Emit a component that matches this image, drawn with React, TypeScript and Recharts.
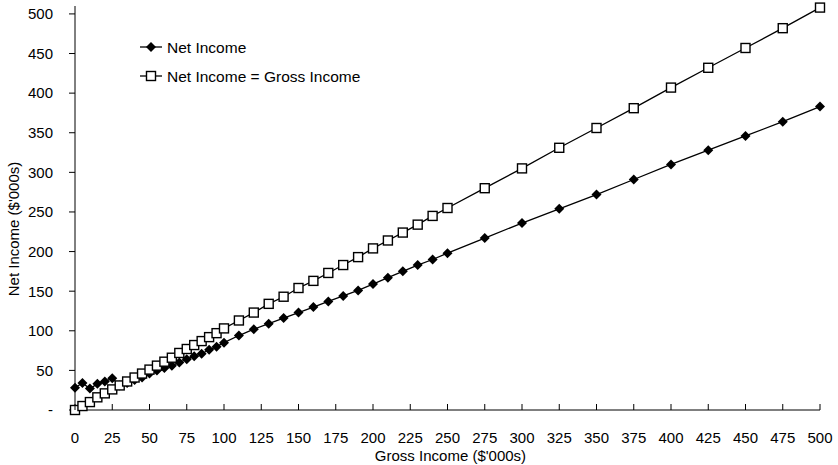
import { Legend, Line, LineChart, XAxis, YAxis } from "recharts"

// Gross income points (step 5 to 100, step 10 to 250, step 25 to 500)
const grossIncome = [
  0, 5, 10, 15, 20, 25, 30, 35, 40, 45, 50, 55, 60, 65, 70, 75, 80, 85, 90, 95, 100,
  110, 120, 130, 140, 150, 160, 170, 180, 190, 200, 210, 220, 230, 240, 250,
  275, 300, 325, 350, 375, 400, 425, 450, 475, 500,
]

const netIncome = [
  28, 34, 27, 33, 36, 40, 31, 34, 38, 41, 46, 50, 53, 56, 60, 64, 68, 71, 76, 80, 85,
  94, 102, 109, 116, 123, 130, 137, 144, 151, 159, 167, 175, 183, 190, 198,
  217, 236, 254, 272, 291, 310, 328, 346, 364, 383,
]

// as plotted in the source (sits a touch above the 45° line)
const equalLine = [
  0, 5, 10, 16, 21, 26, 31, 36, 41, 46, 51, 56, 61, 66, 72, 77, 82, 87, 92, 97, 103,
  113, 123, 134, 143, 154, 163, 173, 183, 193, 204, 214, 224, 234, 245, 255,
  280, 305, 331, 356, 381, 407, 432, 457, 482, 508,
]

const xTicks = [0, 25, 50, 75, 100, 125, 150, 175, 200, 225, 250, 275, 300, 325, 350, 375, 400, 425, 450, 475, 500]
const yTicks = [0, 50, 100, 150, 200, 250, 300, 350, 400, 450, 500]

const seriesNames = ["Net Income", "Net Income = Gross Income"]

const data = grossIncome.map((g, i) => ({ gross: g, net: netIncome[i], equal: equalLine[i] }))

const FONT = '"Liberation Sans", Arial, sans-serif'

const Diamond = ({ cx, cy, r = 5 }: { cx: number; cy: number; r?: number }) => (
  <polygon points={`${cx},${cy - r} ${cx + r},${cy} ${cx},${cy + r} ${cx - r},${cy}`} fill="#000" />
)

const Square = ({ cx, cy, s = 9 }: { cx: number; cy: number; s?: number }) => (
  <rect x={cx - s / 2} y={cy - s / 2} width={s} height={s} fill="#fff" stroke="#000" strokeWidth={1.4} />
)

const XTick = (props: any) => {
  const { x, y, payload } = props
  return (
    <g>
      <line x1={x} y1={y} x2={x} y2={y - 6} stroke="#000" />
      <text x={x} y={y + 33} textAnchor="middle" fontSize={15} fontFamily={FONT} fill="#000">
        {payload.value}
      </text>
    </g>
  )
}

const renderLegend = () => (
  <svg width={280} height={50} style={{ display: "block" }}>
    {seriesNames.map((name, i) => (
      <g key={name}>
        <line x1={4} x2={26} y1={10 + i * 29} y2={10 + i * 29} stroke="#000" strokeWidth={1.3} />
        {i === 0 ? <Diamond cx={15} cy={10} r={5} /> : <Square cx={15} cy={39} s={9} />}
        <text x={31} y={15.5 + i * 29} fontSize={15.5} fontFamily={FONT} fill="#000">
          {name}
        </text>
      </g>
    ))}
  </svg>
)

export default function App() {
  return (
    <div style={{ position: "absolute", left: 0, top: 0, background: "#fff" }}>
      <LineChart width={838} height={465} data={data} margin={{ top: 6, right: 18, bottom: 0, left: 0 }}>
        <XAxis
          dataKey="gross"
          type="number"
          domain={[0, 500]}
          ticks={xTicks}
          interval={0}
          tickLine={false}
          tickSize={0}
          tickMargin={0}
          tick={<XTick />}
          height={55}
          stroke="#000"
          label={{ value: "Gross Income ($'000s)", position: "insideBottom", offset: 4, dx: 3, fontSize: 15, fontFamily: FONT, fill: "#000" }}
        />
        <YAxis
          type="number"
          domain={[0, 510]}
          ticks={yTicks}
          interval={0}
          width={75}
          stroke="#000"
          tickSize={6}
          tickMargin={16}
          tick={{ fontSize: 15, fontFamily: FONT, fill: "#000" }}
          tickFormatter={(v: number) => (v === 0 ? "-" : String(v))}
          label={{ value: "Net Income ($'000s)", angle: -90, position: "insideLeft", offset: 14, dy: 21, fontSize: 15, fontFamily: FONT, fill: "#000", style: { textAnchor: "middle" } }}
        />
        <Legend
          layout="vertical"
          align="center"
          verticalAlign="middle"
          content={renderLegend}
          wrapperStyle={{ left: 136, top: 37, width: 280 }}
        />
        <Line
          dataKey="net"
          name={seriesNames[0]}
          stroke="#000"
          strokeWidth={1.3}
          isAnimationActive={false}
          dot={(p: any) => <Diamond key={`n-${p.index}`} cx={p.cx} cy={p.cy} />}
        />
        <Line
          dataKey="equal"
          name={seriesNames[1]}
          stroke="#000"
          strokeWidth={1.3}
          isAnimationActive={false}
          dot={(p: any) => <Square key={`e-${p.index}`} cx={p.cx} cy={p.cy} />}
        />
      </LineChart>
    </div>
  )
}
